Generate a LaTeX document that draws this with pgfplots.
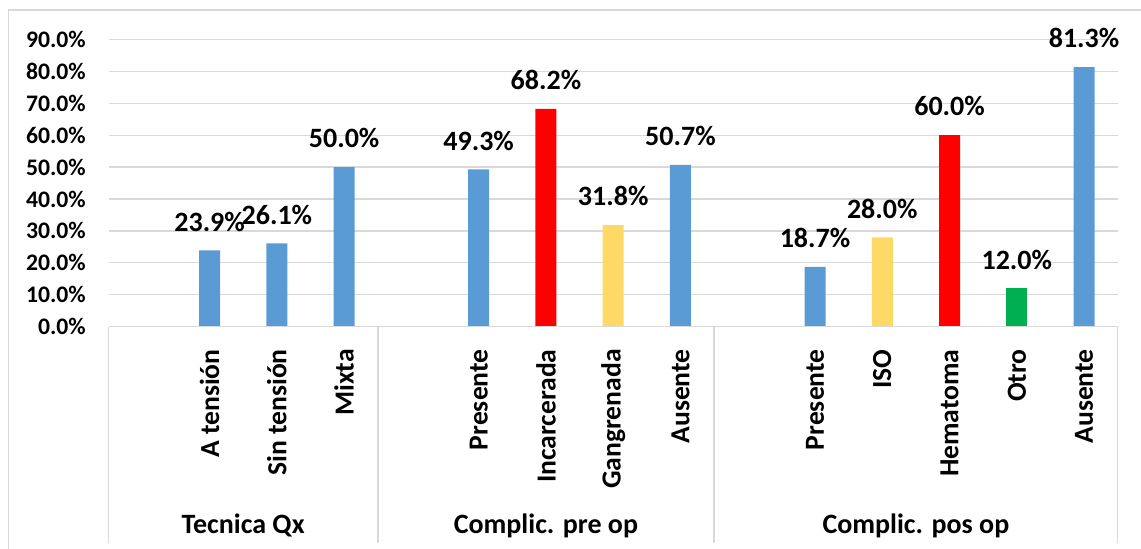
\documentclass[border=0pt]{standalone}
\usepackage{fontspec}
\setmainfont{Carlito}
\usepackage{pgfplots}
\pgfplotsset{compat=1.18}
\definecolor{barblue}{HTML}{5B9BD5}
\definecolor{barred}{HTML}{FF0000}
\definecolor{baryellow}{HTML}{FFD966}
\definecolor{bargreen}{HTML}{00B050}
\definecolor{linegray}{HTML}{D9D9D9}
\begin{document}
\begin{tikzpicture}
% page frame
\path[use as bounding box] (-54.35pt,-111.15pt) rectangle (516.15pt,163.35pt);
\draw[linegray, line width=0.75pt] (517pt,158.35pt) -- (-50.1pt,158.35pt) -- (-50.1pt,-112pt);
\begin{axis}[
  at={(0pt,0pt)}, anchor=south west,
  scale only axis, width=504.5pt, height=143.7pt,
  xmin=-0.5, xmax=14.5, ymin=0, ymax=90,
  axis line style={draw=none},
  tick style={draw=none},
  ytick={0,10,...,90},
  ymajorgrids, grid style={linegray, line width=0.6pt},
  /pgf/number format/assume math mode=true,
  yticklabel={\pgfmathprintnumber[fixed,fixed zerofill,precision=1]{\tick}\%},
  yticklabel style={font=\fontsize{11.85}{12}\selectfont\bfseries, anchor=east, inner sep=0pt, xshift=-11.3pt},
  xtick={1,2,3,5,6,7,8,10,11,12,13,14},
  xticklabels={A tensión, Sin tensión, Mixta, Presente, Incarcerada, Gangrenada, Ausente, Presente, ISO, Hematoma, Otro, Ausente},
  xticklabel style={font=\fontsize{13.8}{14}\selectfont\bfseries, yshift=-11.15pt, rotate=90, anchor=east, inner sep=0pt},
  clip=false,
  nodes near coords={\pgfmathprintnumber[fixed,fixed zerofill,precision=1]{\pgfplotspointmeta}\%},
  nodes near coords style={font=\fontsize{14}{14}\selectfont\bfseries, anchor=south, inner sep=0pt, yshift=9.3pt, text=black},
]
\addplot[ybar, bar width=10.5pt, fill=barblue, draw=none] coordinates {(1,23.9) (2,26.1) (3,50.0) (5,49.3) (8,50.7) (10,18.7) (14,81.3)};
\addplot[ybar, bar width=10.5pt, fill=barred, draw=none] coordinates {(6,68.2) (12,60.0)};
\addplot[ybar, bar width=10.5pt, fill=baryellow, draw=none] coordinates {(7,31.8) (11,28.0)};
\addplot[ybar, bar width=10.5pt, fill=bargreen, draw=none] coordinates {(13,12.0)};
% category axis and group separators
\draw[linegray, line width=0.75pt] (rel axis cs:0,0) -- (rel axis cs:1,0);
\draw[linegray, line width=0.75pt] (axis cs:-0.5,0) -- ++(0pt,-108pt);
\draw[linegray, line width=0.75pt] (axis cs:3.5,0) -- ++(0pt,-108pt);
\draw[linegray, line width=0.75pt] (axis cs:8.5,0) -- ++(0pt,-108pt);
\draw[linegray, line width=0.75pt] (axis cs:14.5,0) -- ++(0pt,-108pt);
% group labels
\node[font=\fontsize{14}{14}\selectfont\bfseries, anchor=base] at ([yshift=-103.65pt]axis cs:1.5,0) {Tecnica Qx};
\node[font=\fontsize{14}{14}\selectfont\bfseries, anchor=base] at ([yshift=-103.65pt]axis cs:6,0) {Complic. pre op};
\node[font=\fontsize{14}{14}\selectfont\bfseries, anchor=base] at ([yshift=-103.65pt]axis cs:11.5,0) {Complic. pos op};
\end{axis}
\end{tikzpicture}
\end{document}
